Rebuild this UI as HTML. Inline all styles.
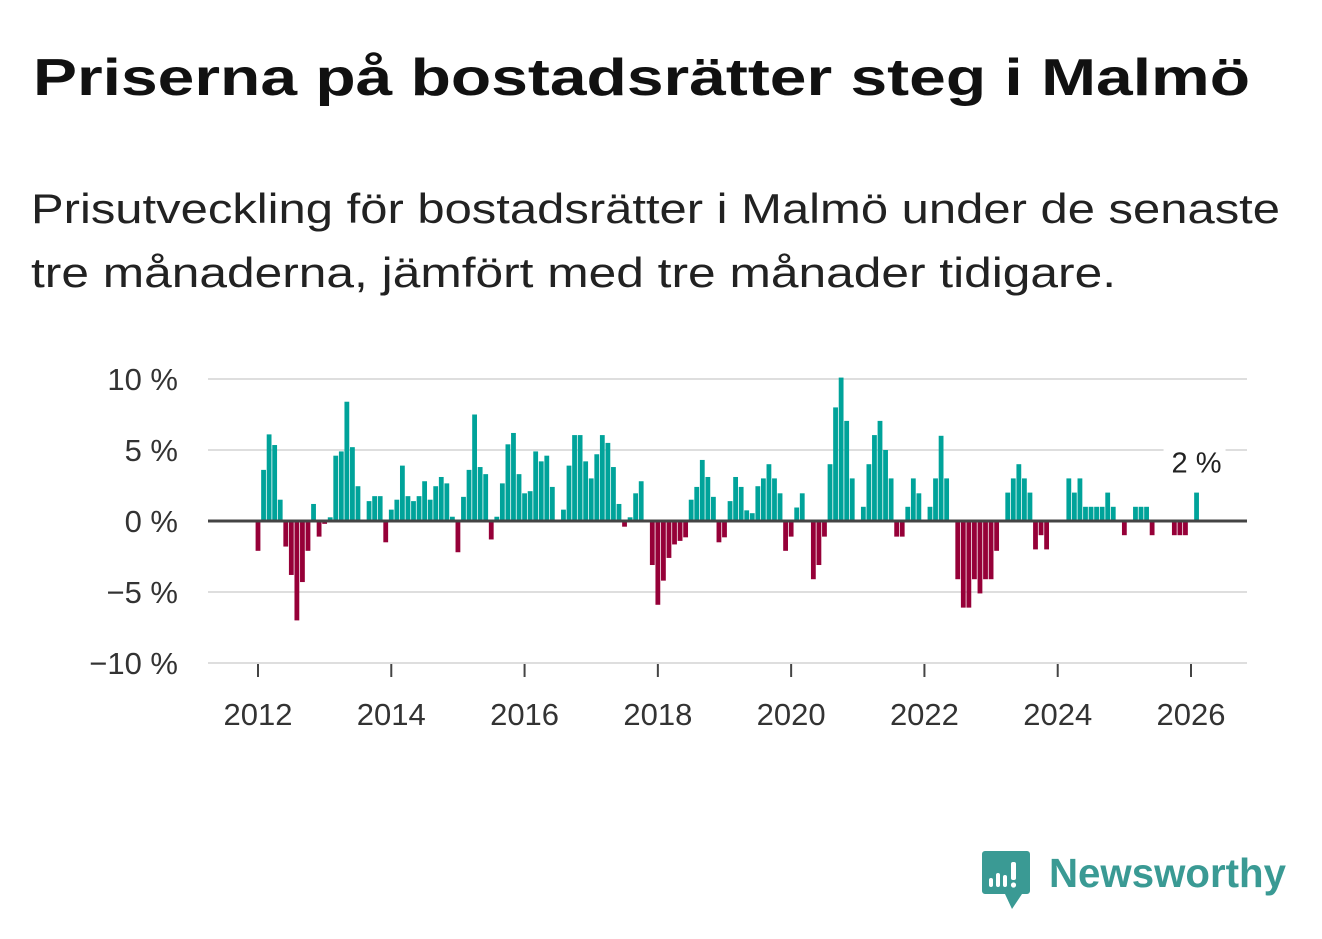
<!DOCTYPE html>
<html><head><meta charset="utf-8"><style>
html,body{margin:0;padding:0;background:#fff;}
svg{display:block;font-family:"Liberation Sans",sans-serif;}
</style></head><body>
<svg id="chart" width="1322" height="939" viewBox="0 0 1322 939">
<text x="33" y="95" font-size="52" font-weight="bold" fill="#111" textLength="1217" lengthAdjust="spacingAndGlyphs">Priserna på bostadsrätter steg i Malmö</text>
<text x="31" y="223" font-size="42" fill="#222" textLength="1249" lengthAdjust="spacingAndGlyphs">Prisutveckling för bostadsrätter i Malmö under de senaste</text>
<text x="31" y="287" font-size="42" fill="#222" textLength="1085" lengthAdjust="spacingAndGlyphs">tre månaderna, jämfört med tre månader tidigare.</text>
<g id="grid"></g>
<g id="yticks"></g>
<g id="bars"></g>
<g id="xaxis"></g>
<g id="annot"></g>
<g>
<path d="M985 851 H1027 a3 3 0 0 1 3 3 V891 a3 3 0 0 1 -3 3 H1022 L1012 909 L1005 894 H985 a3 3 0 0 1 -3 -3 V854 a3 3 0 0 1 3 -3Z" fill="#3a9a94"/>
<rect x="989" y="878" width="4" height="9" rx="2" fill="#fff"/>
<rect x="996" y="873" width="4" height="14" rx="2" fill="#fff"/>
<rect x="1003" y="875" width="4" height="12" rx="2" fill="#fff"/>
<rect x="1011" y="862" width="5" height="18" rx="2" fill="#fff"/>
<circle cx="1013.5" cy="885" r="2.6" fill="#fff"/>
<text x="1049" y="887" font-size="41" font-weight="bold" fill="#3a9a94" textLength="237" lengthAdjust="spacingAndGlyphs">Newsworthy</text>
</g>
</svg>
<script>
const startYear = 2012;
const values = [
-2.1,3.6,6.1,5.35,1.5,-1.8,-3.8,-7.0,-4.3,-2.1,1.2,-1.1,
-0.2,0.26,4.6,4.9,8.4,5.2,2.45,0,1.4,1.75,1.75,-1.5,
0.8,1.5,3.9,1.75,1.4,1.75,2.8,1.5,2.45,3.1,2.65,0.3,
-2.2,1.7,3.6,7.5,3.8,3.3,-1.3,0.3,2.65,5.4,6.2,3.3,
1.95,2.1,4.9,4.2,4.6,2.4,0,0.8,3.9,6.05,6.05,4.2,
3.0,4.7,6.05,5.5,3.8,1.2,-0.4,0.26,1.95,2.8,0,-3.1,
-5.9,-4.2,-2.6,-1.65,-1.4,-1.15,1.5,2.4,4.3,3.1,1.7,-1.5,
-1.15,1.4,3.1,2.4,0.75,0.55,2.45,3.0,4.0,3.0,1.95,-2.1,
-1.1,0.95,1.95,0,-4.1,-3.1,-1.1,4.0,8.0,10.1,7.05,3.0,
0,1,4,6.05,7.05,5,3,-1.1,-1.1,1,3,1.95,
0,1,3,6,3,0,-4.1,-6.1,-6.1,-4.1,-5.1,-4.1,
-4.1,-2.1,0,2,3,4,3,2,-2,-1,-2,0,
0,0,3,2,3,1,1,1,1,2,1,0,
-1,0,1,1,1,-1,0,0,0,-1,-1,-1,
0,2];
const yTicks = [10,5,0,-5,-10];
const yTickLabels = ["10 %","5 %","0 %","\u22125 %","\u221210 %"];
const xTicks = [2012,2014,2016,2018,2020,2022,2024,2026];
const lastLabel = "2 %";

const NS="http://www.w3.org/2000/svg";
function y(v){return 521 - v*14.2;}
function x(monthIndex){return 258 + monthIndex*(933/168);}
function xYear(yr){return x((yr-startYear)*12);}
function mk(tag,attrs,parent){const e=document.createElementNS(NS,tag);for(const k in attrs)e.setAttribute(k,attrs[k]);parent.appendChild(e);return e;}
const grid=document.getElementById('grid'),yt=document.getElementById('yticks'),bars=document.getElementById('bars'),xa=document.getElementById('xaxis'),an=document.getElementById('annot');
yTicks.forEach((t,i)=>{
  if(t!==0){const l=mk('line',{x1:208,x2:1247,y1:y(t),y2:y(t),stroke:'#dedede','stroke-width':2},grid);
  
  }
  const tx=mk('text',{x:178,y:y(t)+11,'font-size':31,fill:'#333','text-anchor':'end'},yt);
  tx.textContent=yTickLabels[i];
  
  
});
values.forEach((v,i)=>{
  if(v===0)return;
  const cx=x(i);
  const r=mk('rect',{x:cx-2.4,width:4.8,y:v>0?y(v):y(0),height:Math.abs(y(v)-y(0)),fill:v>0?'#00a39a':'#960038'},bars);
  
  
});
const zl=mk('line',{x1:208,x2:1247,y1:y(0),y2:y(0),stroke:'#444','stroke-width':3},bars);


xTicks.forEach(yr=>{
  const tk=mk('line',{x1:xYear(yr),x2:xYear(yr),y1:664,y2:677,stroke:'#444','stroke-width':2},xa);
  
  
  const tx=mk('text',{x:xYear(yr),y:725,'font-size':31,fill:'#333','text-anchor':'middle'},xa);
  tx.textContent=yr;
  
  
});
const li=values.length-1;
const bg=mk('rect',{x:x(li)-33,y:y(values[li])-50,width:62,height:34,fill:'#fff'},an);


const at=mk('text',{x:x(li),y:y(values[li])-20,'font-size':29,fill:'#222','text-anchor':'middle'},an);
at.textContent=lastLabel;


</script>
</body></html>
